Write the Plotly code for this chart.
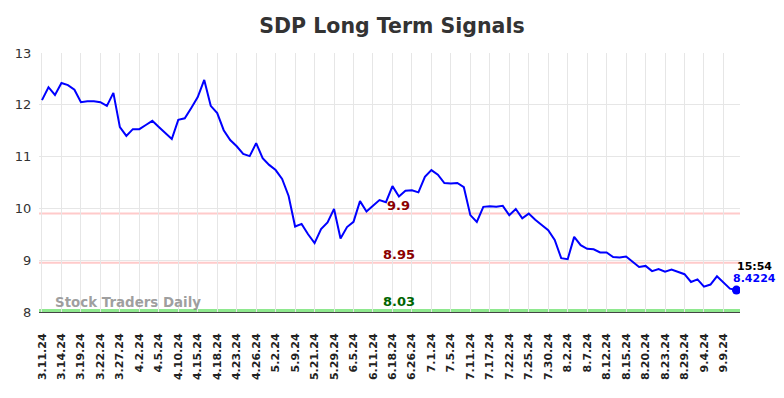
import plotly.graph_objects as go

tick_labels = ["3.11.24", "3.14.24", "3.19.24", "3.22.24", "3.27.24", "4.2.24", "4.5.24",
               "4.10.24", "4.15.24", "4.18.24", "4.23.24", "4.26.24", "5.2.24", "5.9.24",
               "5.21.24", "5.29.24", "6.5.24", "6.11.24", "6.18.24", "6.26.24", "7.1.24",
               "7.5.24", "7.11.24", "7.17.24", "7.22.24", "7.25.24", "7.30.24", "8.2.24",
               "8.7.24", "8.12.24", "8.15.24", "8.20.24", "8.23.24", "8.29.24", "9.4.24",
               "9.9.24"]

values = [12.09, 12.34, 12.19, 12.42, 12.38, 12.29, 12.05, 12.07, 12.07, 12.05,
          11.98, 12.23, 11.57, 11.40, 11.53, 11.53, 11.61, 11.69, 11.57, 11.46,
          11.34, 11.71, 11.74, 11.94, 12.15, 12.48, 11.98, 11.84, 11.51, 11.32,
          11.20, 11.05, 11.01, 11.26, 10.97, 10.84, 10.74, 10.57, 10.24, 9.65,
          9.70, 9.50, 9.33, 9.60, 9.73, 9.99, 9.42, 9.64, 9.74, 10.14,
          9.94, 10.05, 10.16, 10.12, 10.43, 10.23, 10.34, 10.35, 10.31, 10.61,
          10.74, 10.65, 10.49, 10.48, 10.49, 10.41, 9.87, 9.74, 10.03, 10.04,
          10.03, 10.05, 9.87, 9.99, 9.81, 9.90, 9.78, 9.68, 9.58, 9.39,
          9.04, 9.02, 9.45, 9.29, 9.22, 9.21, 9.15, 9.15, 9.06, 9.05,
          9.07, 8.97, 8.87, 8.89, 8.79, 8.83, 8.78, 8.82, 8.78, 8.73,
          8.58, 8.63, 8.49, 8.53, 8.69, 8.56, 8.45, 8.4224]

levels = [9.9, 8.95]
support = 8.03
last_time = "15:54"

x = list(range(len(values)))
tickvals = list(range(0, len(values), 3))[:len(tick_labels)]

fig = go.Figure()
for lv in levels:
    fig.add_hline(y=lv, line=dict(color="rgba(255,180,180,0.7)", width=2), layer="below")
fig.add_hline(y=support, line=dict(color="#8ee88e", width=3), layer="below")

fig.add_trace(go.Scatter(x=x, y=values, mode="lines",
                         line=dict(color="#0000ff", width=2), hoverinfo="skip"))
fig.add_trace(go.Scatter(x=[x[-1]], y=[values[-1]], mode="markers",
                         marker=dict(color="#0000ff", size=9), hoverinfo="skip"))

mid = 55
for lv in levels:
    fig.add_annotation(x=mid, y=lv, text=f"<b>{lv:g}</b>", showarrow=False,
                       yanchor="bottom", yshift=-1,
                       font=dict(family="DejaVu Sans", size=13, color="#8b0000"))
fig.add_annotation(x=mid, y=support, text=f"<b>{support:g}</b>", showarrow=False,
                   yanchor="bottom", yshift=-1,
                   font=dict(family="DejaVu Sans", size=13, color="#006400"))

fig.add_annotation(x=x[-1], y=values[-1], text=f"<b>{last_time}</b>", showarrow=False,
                   xanchor="center", yanchor="bottom", xshift=18, yshift=15,
                   font=dict(family="DejaVu Sans", size=11, color="#000000"))
fig.add_annotation(x=x[-1], y=values[-1], text=f"<b>{values[-1]}</b>", showarrow=False,
                   xanchor="center", yanchor="bottom", xshift=18, yshift=3,
                   font=dict(family="DejaVu Sans", size=11, color="#0000ff"))

fig.add_annotation(x=0, y=8.0, xref="paper", yref="y", text="<b>Stock Traders Daily</b>",
                   showarrow=False, xanchor="left", yanchor="bottom", xshift=14, yshift=0,
                   font=dict(family="DejaVu Sans", size=13.4, color="rgba(128,128,128,0.75)"))

fig.update_layout(
    width=784, height=398,
    margin=dict(l=39, r=44, t=53, b=86, autoexpand=False),
    paper_bgcolor="white", plot_bgcolor="white",
    showlegend=False,
    title=dict(text="<b>SDP Long Term Signals</b>", x=0.5, xanchor="center",
               yref="container", y=1 - 26 / 398, yanchor="middle",
               font=dict(family="DejaVu Sans", size=20.5, color="#333333")),
    font=dict(family="DejaVu Sans"),
)
fig.update_xaxes(range=[-0.46, 107.55], tickmode="array", tickvals=tickvals,
                 ticktext=[f"<b>{t}</b>" for t in tick_labels], tickangle=-90,
                 automargin=False,
                 showgrid=True, gridcolor="#e6e6e6", gridwidth=1,
                 zeroline=False, showline=True, linecolor="#444444", linewidth=1,
                 ticks="outside", ticklen=16, tickcolor="rgba(0,0,0,0)",
                 tickfont=dict(family="DejaVu Sans", size=11, color="#222222"))
fig.update_yaxes(range=[8, 13], tickmode="array", tickvals=[8, 9, 10, 11, 12, 13],
                 automargin=False,
                 showgrid=True, gridcolor="#e6e6e6", gridwidth=1, zeroline=False,
                 ticks="outside", ticklen=4, tickcolor="rgba(0,0,0,0)",
                 tickfont=dict(family="DejaVu Sans", size=13, color="#333333"))

fig.write_html("out.html", config={"displayModeBar": False},
               post_script="document.body.style.margin='0';document.body.style.overflow='hidden';")
